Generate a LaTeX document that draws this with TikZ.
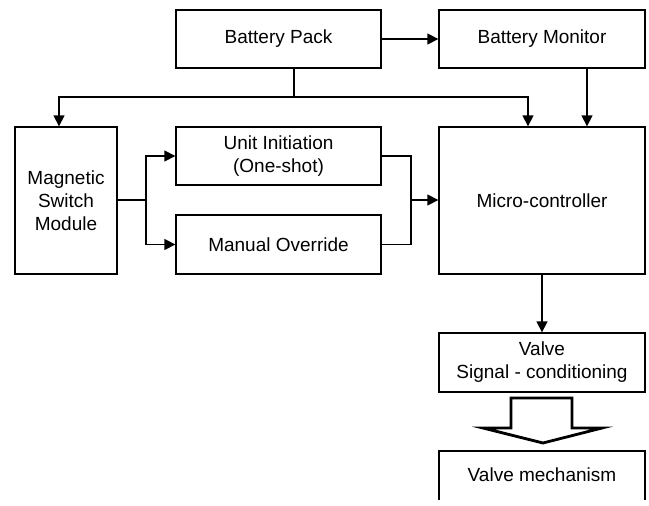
\documentclass[tikz,border=0pt]{standalone}
\usepackage{fontspec}
\setmainfont{Liberation Sans}
\usetikzlibrary{arrows.meta}
\begin{document}
\begin{tikzpicture}[x=1pt,y=-1pt,
  box/.style={draw,line width=1.3pt,rectangle,inner sep=0pt,align=center,
    font=\fontsize{19}{23}\selectfont},
  conn/.style={line width=1.3pt},
  arr/.style={conn,-{Triangle[length=11pt,width=11pt]}}]
\useasboundingbox (0,0) rectangle (649,506);
\node[box,minimum width=205pt,minimum height=58pt] (bp) at (278.5,39) {Battery Pack};
\node[box,minimum width=206pt,minimum height=58pt] (bm) at (542,39) {Battery Monitor};
\node[box,minimum width=102pt,minimum height=147pt] (mag) at (66,200.5) {Magnetic\\Switch\\Module};
\node[box,minimum width=205pt,minimum height=58pt] (ui) at (278.5,156) {Unit Initiation\\(One-shot)};
\node[box,minimum width=205pt,minimum height=59pt] (mo) at (278.5,244.5) {Manual Override};
\node[box,minimum width=206pt,minimum height=147pt] (mc) at (542,200.5) {Micro-controller};
\node[box,minimum width=206pt,minimum height=59pt] (vs) at (542,362.5) {Valve\\Signal - conditioning};
\node[font=\fontsize{19}{23}\selectfont,inner sep=0pt] (vm) at (542,475) {Valve mechanism};
\coordinate (vmtl) at (439,451);
\coordinate (vmtr) at (645,451);
\coordinate (vmbl) at (439,500);
\coordinate (vmbr) at (645,500);
\draw[conn] (vmbl) -- (vmtl) -- (vmtr) -- (vmbr);
% connectors
\draw[arr] (bp.east) -- (bm.west);
\coordinate (j1) at (294,97);
\coordinate (jl) at (59,97);
\coordinate (jr) at (528,97);
\draw[conn] (bp.south -| j1) -- (j1);
\draw[arr] (jr) -- (jl) -- (mag.north -| jl);
\draw[arr] (jl) -- (jr) -- (mc.north -| jr);
\coordinate (bmx) at (587,0);
\draw[arr] (bm.south -| bmx) -- (mc.north -| bmx);
\coordinate (s1) at (146,200);
\draw[conn] (mag.east |- s1) -- (s1);
\draw[arr] (s1) |- (ui.west);
\draw[arr] (s1) |- (mo.west);
\coordinate (m1) at (411,200);
\draw[conn] (ui.east) -| (m1);
\draw[conn] (mo.east) -| (m1);
\draw[arr] (m1) -- (m1 -| mc.west);
\draw[arr] (mc.south) -- (vs.north);
% hollow arrow
\draw[line width=2.8pt,line join=miter] (511,398) -- (572,398) -- (572,428) -- (602,428) -- (543,443) -- (483,428) -- (511,428) -- cycle;
\end{tikzpicture}
\end{document}
